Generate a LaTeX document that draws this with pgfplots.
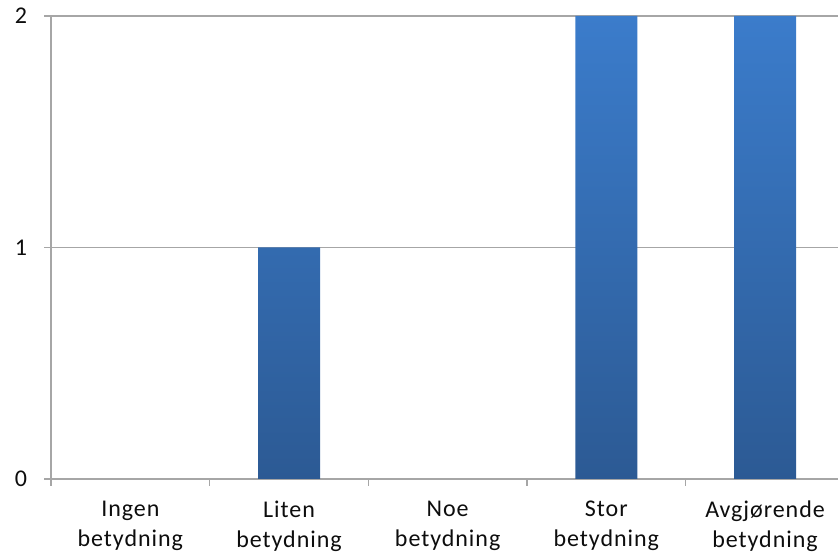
\documentclass[border=0pt]{standalone}
\usepackage{pgfplots}
\pgfplotsset{compat=1.18}
\usetikzlibrary{calc}
\usepackage{fontspec}
\setmainfont{Carlito}[LetterSpace=4]
\definecolor{barTop}{HTML}{3B7CCB}
\definecolor{barBot}{HTML}{2C5A94}
\definecolor{axGray}{HTML}{A6A6A6}
\definecolor{txt}{HTML}{0D0D0D}
\begin{document}
\begin{tikzpicture}
\begin{axis}[
  name=ax,
  scale only axis,
  width=393.5pt, height=231.5pt,
  xmin=-0.5, xmax=4.46,
  ymin=0, ymax=2,
  axis x line*=bottom, axis y line*=left,
  axis line style={axGray, line width=0.9pt, -},
  ytick={0,1,2},
  ymajorgrids,
  grid style={axGray, line width=0.8pt},
  xtick={0,1,2,3,4},
  xticklabels={{Ingen\\betydning},{Liten\\betydning},{Noe\\betydning},{Stor\\betydning},{Avgjørende\\betydning}},
  minor xtick={-0.5,0.5,1.5,2.5,3.5},
  tick align=outside,
  major tick length=3.5pt,
  minor tick length=3.5pt,
  major x tick style={draw=none},
  every tick/.style={axGray, line width=0.8pt},
  xticklabel style={align=center, font=\fontsize{12}{15}\selectfont, text=txt, yshift=-4pt},
  yticklabel style={font=\fontsize{12}{15}\selectfont, text=txt, xshift=-5pt},
  /pgf/number format/assume math mode=true,
  clip=false,
]
% empty categories (value 0) draw no bar
\addplot[ybar, bar width=31pt, draw=none, top color=barTop, bottom color=barBot,
  unbounded coords=discard, y filter/.expression={y==0 ? nan : y}]
  coordinates {(0,0) (1,1) (2,0) (3,2) (4,2)};
\end{axis}
\pgfresetboundingbox
\path[use as bounding box] ($(ax.south west)+(-25.5pt,-37.5pt)$) rectangle ($(ax.north east)+(0pt,8pt)$);
\end{tikzpicture}
\end{document}
